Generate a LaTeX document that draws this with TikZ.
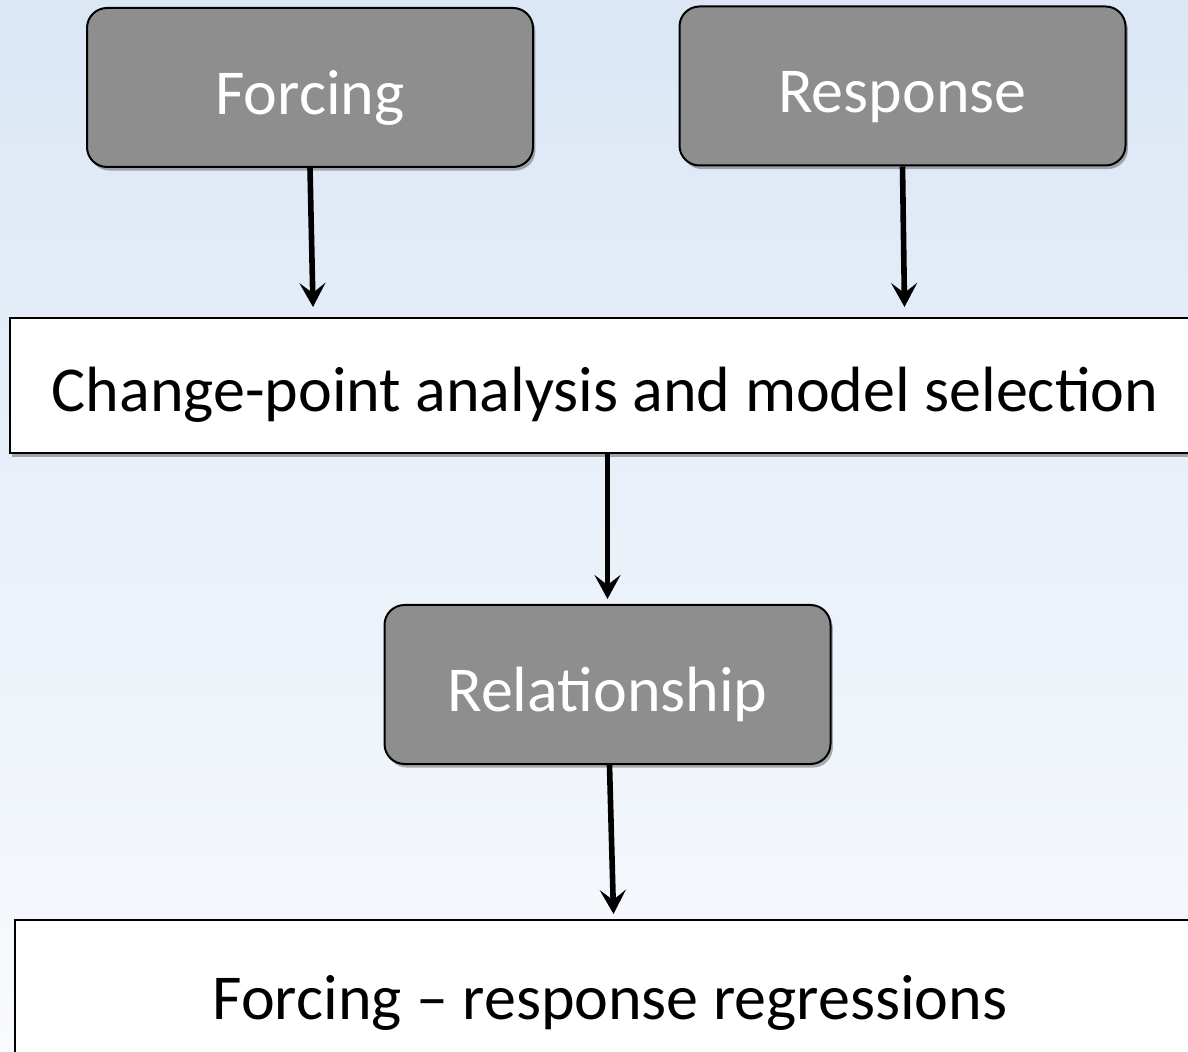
\documentclass[tikz,border=0pt]{standalone}
\usepackage{fontspec}
\setmainfont{Carlito}
\usetikzlibrary{shadows,arrows.meta,calc}
\definecolor{bgtop}{RGB}{219,231,245}
\definecolor{bgbot}{RGB}{248,250,253}
\definecolor{boxgray}{RGB}{142,142,142}
\tikzset{
  graybox/.style={draw=black, line width=1pt, fill=boxgray, rounded corners=10pt,
    minimum width=223pt, minimum height=79.5pt, text=white, text depth=0pt, text height=27pt,
    font=\fontsize{32}{38}\selectfont,
    drop shadow={shadow xshift=1.2pt, shadow yshift=-1.8pt, opacity=0.3, fill=black}},
  whitebox/.style={draw=black, line width=1pt, fill=white, text depth=0pt, text height=26pt,
    minimum width=595pt, text=black, font=\fontsize{32}{38}\selectfont,
    drop shadow={shadow xshift=1.2pt, shadow yshift=-1.8pt, opacity=0.3, fill=black}},
  flowarrow/.style={line width=2.8pt, -{Stealth[length=12pt,width=13pt,inset=5pt]}}
}
\begin{document}
\begin{tikzpicture}[x=0.5pt,y=-0.5pt]
\useasboundingbox (0,0) rectangle (1188,1052);
\clip (0,0) rectangle (1188,1052);
\shade[top color=bgtop, bottom color=bgbot] (0,0) rectangle (1188,1052);
\node[graybox] (forcing) at (310,87.5) {Forcing};
\node[graybox] (response) at (902.5,86) {Response};
\node[whitebox, minimum height=67.5pt] (change) at (605,385.5) {Change-point analysis and model selection};
\node[graybox] (rel) at (607.5,684.5) {Relationship};
\node[whitebox, minimum height=75pt, text height=24pt] (reg) at (610,995) {Forcing – response regressions};
\coordinate (a1) at ($(change.north -| forcing.south)+(3,-10)$);
\coordinate (a2) at ($(change.north -| response.south)+(2,-10)$);
\coordinate (a3) at ($(rel.north)+(0,-5)$);
\coordinate (a4) at ($(reg.north -| rel.south)+(6,-5)$);
\draw[flowarrow] (forcing.south) -- (a1);
\draw[flowarrow] (response.south) -- (a2);
\draw[flowarrow] (change.south -| rel.north) -- (a3);
\draw[flowarrow] ($(rel.south)+(2,0)$) -- (a4);
\end{tikzpicture}
\end{document}
